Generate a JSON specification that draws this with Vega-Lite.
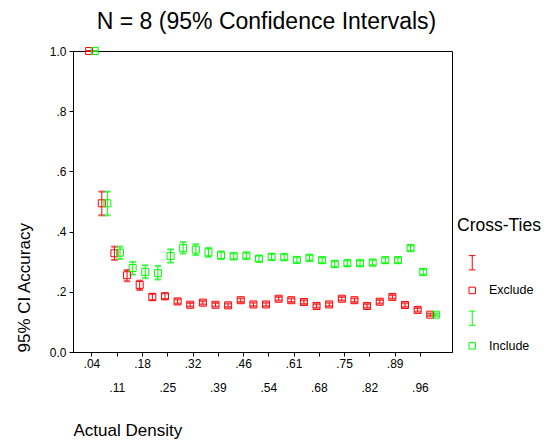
{
  "$schema": "https://vega.github.io/schema/vega-lite/v6.json",
  "width": 379,
  "height": 301,
  "autosize": "none",
  "padding": {"left": 73, "top": 51, "right": 94, "bottom": 91},
  "title": {
    "text": "N = 8 (95% Confidence Intervals)",
    "fontSize": 23,
    "fontWeight": "normal",
    "color": "#000",
    "anchor": "middle",
    "dx": 4,
    "offset": 11
  },
  "config": {
    "font": "Liberation Sans",
    "view": {"stroke": "#000", "strokeWidth": 1},
    "axis": {
      "domainColor": "#000",
      "tickColor": "#000",
      "labelColor": "#000",
      "titleColor": "#000",
      "grid": false,
      "labelFontSize": 12,
      "titleFontWeight": "normal",
      "tickSize": 4
    }
  },
  "data": {
    "values": [
      {"density": ".04", "ties": "Exclude", "accuracy": 1.0, "lo": 1.0, "hi": 1.0},
      {"density": ".07", "ties": "Exclude", "accuracy": 0.494, "lo": 0.454, "hi": 0.533},
      {"density": ".11", "ties": "Exclude", "accuracy": 0.328, "lo": 0.306, "hi": 0.350},
      {"density": ".14", "ties": "Exclude", "accuracy": 0.255, "lo": 0.235, "hi": 0.272},
      {"density": ".18", "ties": "Exclude", "accuracy": 0.223, "lo": 0.206, "hi": 0.237},
      {"density": ".21", "ties": "Exclude", "accuracy": 0.183, "lo": 0.172, "hi": 0.193},
      {"density": ".25", "ties": "Exclude", "accuracy": 0.185, "lo": 0.176, "hi": 0.195},
      {"density": ".29", "ties": "Exclude", "accuracy": 0.168, "lo": 0.161, "hi": 0.175},
      {"density": ".32", "ties": "Exclude", "accuracy": 0.157, "lo": 0.151, "hi": 0.163},
      {"density": ".36", "ties": "Exclude", "accuracy": 0.164, "lo": 0.158, "hi": 0.170},
      {"density": ".39", "ties": "Exclude", "accuracy": 0.157, "lo": 0.151, "hi": 0.163},
      {"density": ".43", "ties": "Exclude", "accuracy": 0.155, "lo": 0.149, "hi": 0.161},
      {"density": ".46", "ties": "Exclude", "accuracy": 0.172, "lo": 0.166, "hi": 0.178},
      {"density": ".50", "ties": "Exclude", "accuracy": 0.158, "lo": 0.152, "hi": 0.164},
      {"density": ".54", "ties": "Exclude", "accuracy": 0.158, "lo": 0.152, "hi": 0.164},
      {"density": ".57", "ties": "Exclude", "accuracy": 0.177, "lo": 0.171, "hi": 0.183},
      {"density": ".61", "ties": "Exclude", "accuracy": 0.172, "lo": 0.166, "hi": 0.178},
      {"density": ".64", "ties": "Exclude", "accuracy": 0.166, "lo": 0.160, "hi": 0.172},
      {"density": ".68", "ties": "Exclude", "accuracy": 0.153, "lo": 0.147, "hi": 0.159},
      {"density": ".71", "ties": "Exclude", "accuracy": 0.158, "lo": 0.152, "hi": 0.164},
      {"density": ".75", "ties": "Exclude", "accuracy": 0.177, "lo": 0.171, "hi": 0.183},
      {"density": ".79", "ties": "Exclude", "accuracy": 0.172, "lo": 0.166, "hi": 0.178},
      {"density": ".82", "ties": "Exclude", "accuracy": 0.153, "lo": 0.147, "hi": 0.159},
      {"density": ".86", "ties": "Exclude", "accuracy": 0.167, "lo": 0.161, "hi": 0.173},
      {"density": ".89", "ties": "Exclude", "accuracy": 0.183, "lo": 0.177, "hi": 0.189},
      {"density": ".93", "ties": "Exclude", "accuracy": 0.156, "lo": 0.150, "hi": 0.162},
      {"density": ".96", "ties": "Exclude", "accuracy": 0.140, "lo": 0.134, "hi": 0.146},
      {"density": "1.00", "ties": "Exclude", "accuracy": 0.124, "lo": 0.120, "hi": 0.128},
      {"density": ".04", "ties": "Include", "accuracy": 1.0, "lo": 1.0, "hi": 1.0},
      {"density": ".07", "ties": "Include", "accuracy": 0.494, "lo": 0.454, "hi": 0.533},
      {"density": ".11", "ties": "Include", "accuracy": 0.330, "lo": 0.309, "hi": 0.350},
      {"density": ".14", "ties": "Include", "accuracy": 0.279, "lo": 0.257, "hi": 0.299},
      {"density": ".18", "ties": "Include", "accuracy": 0.266, "lo": 0.245, "hi": 0.288},
      {"density": ".21", "ties": "Include", "accuracy": 0.262, "lo": 0.241, "hi": 0.286},
      {"density": ".25", "ties": "Include", "accuracy": 0.319, "lo": 0.297, "hi": 0.341},
      {"density": ".29", "ties": "Include", "accuracy": 0.345, "lo": 0.327, "hi": 0.365},
      {"density": ".32", "ties": "Include", "accuracy": 0.340, "lo": 0.322, "hi": 0.358},
      {"density": ".36", "ties": "Include", "accuracy": 0.331, "lo": 0.316, "hi": 0.346},
      {"density": ".39", "ties": "Include", "accuracy": 0.321, "lo": 0.309, "hi": 0.334},
      {"density": ".43", "ties": "Include", "accuracy": 0.318, "lo": 0.308, "hi": 0.328},
      {"density": ".46", "ties": "Include", "accuracy": 0.320, "lo": 0.310, "hi": 0.330},
      {"density": ".50", "ties": "Include", "accuracy": 0.310, "lo": 0.300, "hi": 0.320},
      {"density": ".54", "ties": "Include", "accuracy": 0.316, "lo": 0.306, "hi": 0.326},
      {"density": ".57", "ties": "Include", "accuracy": 0.315, "lo": 0.305, "hi": 0.325},
      {"density": ".61", "ties": "Include", "accuracy": 0.306, "lo": 0.297, "hi": 0.315},
      {"density": ".64", "ties": "Include", "accuracy": 0.313, "lo": 0.304, "hi": 0.322},
      {"density": ".68", "ties": "Include", "accuracy": 0.305, "lo": 0.296, "hi": 0.314},
      {"density": ".71", "ties": "Include", "accuracy": 0.292, "lo": 0.283, "hi": 0.301},
      {"density": ".75", "ties": "Include", "accuracy": 0.295, "lo": 0.286, "hi": 0.304},
      {"density": ".79", "ties": "Include", "accuracy": 0.295, "lo": 0.286, "hi": 0.304},
      {"density": ".82", "ties": "Include", "accuracy": 0.297, "lo": 0.288, "hi": 0.306},
      {"density": ".86", "ties": "Include", "accuracy": 0.305, "lo": 0.296, "hi": 0.314},
      {"density": ".89", "ties": "Include", "accuracy": 0.305, "lo": 0.296, "hi": 0.314},
      {"density": ".93", "ties": "Include", "accuracy": 0.345, "lo": 0.336, "hi": 0.354},
      {"density": ".96", "ties": "Include", "accuracy": 0.266, "lo": 0.257, "hi": 0.275},
      {"density": "1.00", "ties": "Include", "accuracy": 0.124, "lo": 0.120, "hi": 0.128}
    ]
  },
  "encoding": {
    "x": {
      "field": "density",
      "type": "ordinal",
      "scale": {"type": "band", "paddingInner": 0, "paddingOuter": 1.48},
      "axis": {
        "title": "Actual Density",
        "titleFontSize": 17,
        "titleAnchor": "start",
        "titlePadding": 29,
        "values": [".04", ".11", ".18", ".25", ".32", ".39", ".46", ".54", ".61", ".68", ".75", ".82", ".89", ".96"],
        "bandPosition": 0.5,
        "labelAngle": 0,
        "labelOverlap": false,
        "labelPadding": {
          "condition": {
            "test": "indexof(['.11', '.25', '.39', '.54', '.68', '.82', '.96'], datum.value) >= 0",
            "value": 26
          },
          "value": 2
        }
      }
    },
    "xOffset": {
      "field": "ties",
      "type": "nominal",
      "scale": {"paddingInner": 0, "paddingOuter": 0.133}
    }
  },
  "layer": [
    {
      "mark": {"type": "rule", "strokeWidth": 1},
      "encoding": {
        "y": {
          "field": "lo",
          "type": "quantitative",
          "scale": {"domain": [0, 1], "nice": false},
          "axis": {
            "title": "95% CI Accuracy",
            "titleFontSize": 17,
            "titleAnchor": "start",
            "titlePadding": 16,
            "values": [0, 0.2, 0.4, 0.6, 0.8, 1],
            "labelPadding": 3,
            "labelExpr": "datum.value == 0 || datum.value == 1 ? format(datum.value, '.1f') : replace(format(datum.value, '.1f'), '0.', '.')"
          }
        },
        "y2": {"field": "hi"},
        "stroke": {
          "field": "ties",
          "type": "nominal",
          "scale": {"domain": ["Exclude", "Include"], "range": ["#ff0000", "#00ff00"]},
          "legend": null
        }
      }
    },
    {
      "mark": {"type": "tick", "size": 6, "thickness": 1},
      "encoding": {
        "y": {"field": "lo", "type": "quantitative"},
        "stroke": {"field": "ties", "type": "nominal", "legend": null}
      }
    },
    {
      "mark": {"type": "tick", "size": 6, "thickness": 1},
      "encoding": {
        "y": {"field": "hi", "type": "quantitative"},
        "stroke": {"field": "ties", "type": "nominal", "legend": null}
      }
    },
    {
      "mark": {"type": "point", "filled": false, "size": 49, "strokeWidth": 1, "opacity": 1},
      "encoding": {
        "y": {"field": "accuracy", "type": "quantitative"},
        "color": {
          "field": "ties",
          "type": "nominal",
          "title": "Cross-Ties",
          "scale": {
            "domain": ["Exclude interval", "Exclude", "Include interval", "Include"],
            "range": ["#ff0000", "#ff0000", "#00ff00", "#00ff00"]
          },
          "legend": {
            "orient": "none",
            "legendX": 384,
            "legendY": 166,
            "padding": 0,
            "titleFontSize": 17.5,
            "titleFontWeight": "normal",
            "titleColor": "#000",
            "titlePadding": 22,
            "labelFontSize": 12.5,
            "labelColor": "#000",
            "labelExpr": "indexof(datum.label, 'interval') >= 0 ? '' : datum.label",
            "symbolOffset": 9,
            "labelOffset": 10.5,
            "rowPadding": 11.7,
            "symbolSize": 42,
            "symbolStrokeWidth": 1
          }
        },
        "shape": {
          "field": "ties",
          "type": "nominal",
          "title": "Cross-Ties",
          "scale": {
            "domain": ["Exclude interval", "Exclude", "Include interval", "Include"],
            "range": [
              "M-1,-2.2H1M0,-2.2V2.2M-1,2.2H1",
              "M-1,-1H1V1H-1Z",
              "M-1,-2.2H1M0,-2.2V2.2M-1,2.2H1",
              "M-1,-1H1V1H-1Z"
            ]
          }
        }
      }
    }
  ]
}
